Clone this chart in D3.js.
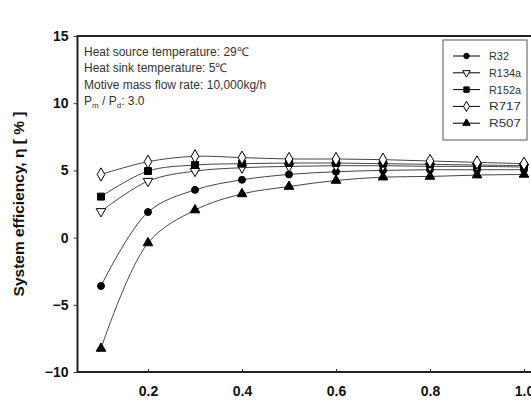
<!DOCTYPE html>
<html>
<head>
<meta charset="utf-8">
<script src="https://cdn.jsdelivr.net/npm/d3@7"></script>
<style>
  body { margin: 0; background: #fff; }
  svg { display: block; font-family: "Liberation Sans", Arial, sans-serif; }
</style>
</head>
<body>
<div id="container"></div>
<script>
// pressure / flow values on x
const ratios = [0.1, 0.2, 0.3, 0.4, 0.5, 0.6, 0.7, 0.8, 0.9, 1.0];

const r32   = [-3.6, 1.9, 3.55, 4.3, 4.7, 4.9, 5.0, 5.05, 5.05, 5.05];
const r134a = [1.95, 4.2, 4.95, 5.2, 5.3, 5.35, 5.35, 5.3, 5.3, 5.25];
const r152a = [3.05, 4.95, 5.4, 5.5, 5.55, 5.55, 5.5, 5.45, 5.4, 5.35];
const r717  = [4.7, 5.65, 6.05, 5.95, 5.85, 5.85, 5.8, 5.7, 5.6, 5.5];
const r507  = [-8.25, -0.4, 2.05, 3.25, 3.8, 4.25, 4.5, 4.55, 4.65, 4.7];

const seriesNames = ["R32", "R134a", "R152a", "R717", "R507"];
const seriesValues = [r32, r134a, r152a, r717, r507];

const xTicks = [0.2, 0.4, 0.6, 0.8, 1.0];
const yTicks = [-10, -5, 0, 5, 10, 15];

const notes = ["Heat source temperature: 29\u2103", "Heat sink temperature: 5\u2103",
               "Motive mass flow rate: 10,000kg/h"];

const width = 531, height = 408;
const plotLeft = 77.5, plotTop = 36, plotBottom = 372;

const x = d3.scaleLinear().domain([0.05, 1.05]).range([plotLeft, plotLeft + 470]);
const y = d3.scaleLinear().domain([-10, 15]).range([plotBottom, plotTop]);

const svg = d3.select("#container").append("svg")
    .attr("width", width).attr("height", height);

// frame
svg.append("rect")
    .attr("x", plotLeft).attr("y", plotTop)
    .attr("width", x(1.05) - plotLeft).attr("height", plotBottom - plotTop)
    .attr("fill", "none").attr("stroke", "#222").attr("stroke-width", 2);

// axes
const yAxis = svg.append("g").attr("transform", `translate(${plotLeft},0)`)
    .call(d3.axisLeft(y).tickValues(yTicks).tickSize(4).tickFormat(d3.format("d")));
const xAxis = svg.append("g").attr("transform", `translate(0,${plotBottom})`)
    .call(d3.axisBottom(x).tickValues(xTicks).tickSize(-3).tickPadding(14).tickFormat(d3.format(".1f")));
[yAxis, xAxis].forEach(a => {
    a.select(".domain").remove();
    a.selectAll("line").attr("stroke", "#333");
    a.selectAll("text").attr("fill", "#111").attr("font-size", 14).attr("font-weight", "bold")
        .attr("font-family", "'Liberation Sans', Arial, sans-serif");
});
yAxis.selectAll("text").attr("x", -9);

svg.append("text")
    .attr("transform", `translate(24,${(plotTop + plotBottom) / 2}) rotate(-90)`)
    .attr("text-anchor", "middle")
    .attr("font-size", 15.5).attr("font-weight", "bold").attr("fill", "#111")
    .text("System efficiency, \u03B7 [ % ]");

// markers
const sym = [
    { type: d3.symbolCircle, size: 38, fill: "#000" },
    { type: d3.symbolTriangle, size: 40, fill: "#fff", rotate: 180 },
    { type: d3.symbolSquare, size: 48, fill: "#000" },
    { type: d3.symbolDiamond, size: 50, fill: "#fff" },
    { type: d3.symbolTriangle, size: 40, fill: "#000" }
];

const line = d3.line().x(d => x(d[0])).y(d => y(d[1])).curve(d3.curveCatmullRom.alpha(0.5));

const plot = svg.append("g");
seriesValues.forEach((vals, i) => {
    const pts = ratios.map((r, j) => [r, vals[j]]);
    plot.append("path").datum(pts)
        .attr("d", line).attr("fill", "none")
        .attr("stroke", "#444").attr("stroke-width", 1);
});
seriesValues.forEach((vals, i) => {
    const s = sym[i];
    plot.append("g").selectAll("path")
        .data(ratios.map((r, j) => [r, vals[j]]))
        .join("path")
        .attr("d", d3.symbol(s.type, s.size))
        .attr("transform", d => `translate(${x(d[0])},${y(d[1])})` + (s.rotate ? ` rotate(${s.rotate})` : ""))
        .attr("fill", s.fill).attr("stroke", "#000").attr("stroke-width", 1);
});

// notes
const noteG = svg.append("g").attr("fill", "#333").attr("font-size", 12);
notes.forEach((t, i) => {
    noteG.append("text").attr("x", 84).attr("y", 56 + i * 16.3).text(t);
});
const pt = noteG.append("text").attr("x", 84).attr("y", 56 + 3 * 16.3);
pt.append("tspan").text("P");
pt.append("tspan").attr("font-size", 8).attr("dy", 3).text("m");
pt.append("tspan").attr("dy", -3).text(" / P");
pt.append("tspan").attr("font-size", 8).attr("dy", 3).text("d");
pt.append("tspan").attr("dy", -3).text(": 3.0");

// legend
const lg = svg.append("g").attr("transform", "translate(443,40)");
lg.append("rect").attr("width", 84).attr("height", 100)
    .attr("fill", "#fff").attr("stroke", "#555").attr("stroke-width", 1);
seriesNames.forEach((name, i) => {
    const yy = 16 + i * 16.8;
    const s = sym[i];
    lg.append("line").attr("x1", 10).attr("x2", 37).attr("y1", yy).attr("y2", yy)
        .attr("stroke", "#000").attr("stroke-width", 1);
    lg.append("path").attr("d", d3.symbol(s.type, s.size * 0.6))
        .attr("transform", `translate(23.5,${yy})` + (s.rotate ? ` rotate(${s.rotate})` : ""))
        .attr("fill", s.fill).attr("stroke", "#000");
    lg.append("text").attr("x", 46).attr("y", yy + 4)
        .attr("font-size", 11).attr("fill", "#333")
        .attr("textLength", name.length > 3 ? 32 : 20).attr("lengthAdjust", "spacingAndGlyphs")
        .text(name);
});
</script>
</body>
</html>
